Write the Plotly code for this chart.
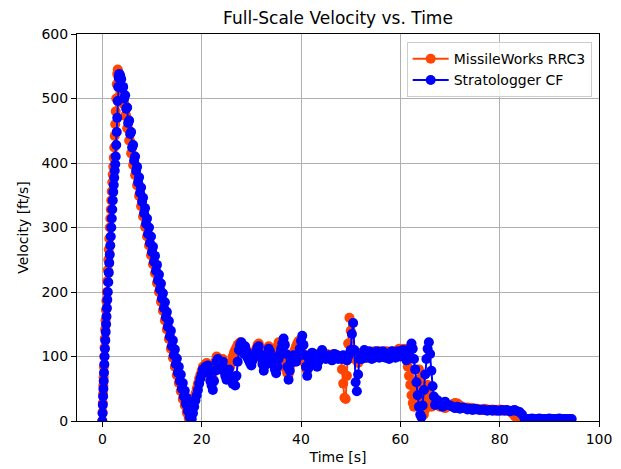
import plotly.graph_objects as go

# ---------------- MissileWorks RRC3 ----------------
rr_t_boost = [0.0, 0.05, 0.1, 0.15, 0.2, 0.26, 0.32, 0.38, 0.44, 0.5,
              0.57, 0.64, 0.72, 0.8, 0.9, 1.0, 1.1, 1.2, 1.3, 1.4,
              1.5, 1.6, 1.7, 1.8, 1.9, 2.0, 2.1, 2.2, 2.3, 2.4,
              2.5, 2.6, 2.7, 2.8, 2.9, 3.0, 3.1, 3.2]
rr_v_boost = [0, 14, 28, 42, 55, 68, 84, 100, 114, 128,
              142, 156, 172, 186, 200, 217, 234, 250, 266, 283,
              300, 314, 328, 342, 356, 370, 382, 394, 408, 424,
              442, 460, 480, 500, 522, 538, 545, 542]

rr_t_desc = [3.4, 3.6, 3.8, 4.0, 4.2, 4.4, 4.6, 4.8, 5.0, 5.2,
             5.4, 5.6, 5.8, 6.0, 6.2, 6.4, 6.6, 6.8, 7.0, 7.2,
             7.4, 7.6, 7.8, 8.0, 8.2, 8.4, 8.6, 8.8, 9.0, 9.2,
             9.4, 9.6, 9.8, 10.0, 10.2, 10.4, 10.6, 10.8, 11.0, 11.2,
             11.4, 11.6, 11.8, 12.0, 12.2, 12.4, 12.6, 12.8, 13.0, 13.2,
             13.4, 13.6, 13.8, 14.0, 14.2, 14.4, 14.6, 14.8, 15.0, 15.2,
             15.4, 15.6, 15.8, 16.0, 16.2, 16.4, 16.6, 16.8, 17.0, 17.2,
             17.4, 17.6]
rr_v_desc = [530, 524, 509, 509, 492, 492, 473, 473, 454, 453,
             435, 434, 415, 414, 397, 398, 381, 382, 365, 366,
             349, 350, 333, 334, 317, 318, 301, 302, 286, 288,
             272, 274, 257, 259, 243, 245, 229, 230, 214, 216,
             200, 202, 185, 187, 171, 173, 156, 158, 142, 143,
             127, 128, 112, 114, 98, 100, 84, 87, 71, 74,
             59, 61, 46, 49, 34, 38, 24, 27, 13, 16,
             4, 3]

rr_t_coast = [17.75, 18.0, 18.25, 18.5, 18.75,
              19.0, 19.25, 19.5, 19.75, 20.0, 20.25, 20.5, 20.75,
              21.0, 21.25, 21.5, 21.75, 22.0, 22.25, 22.5, 22.75,
              23.0, 23.25, 23.5, 23.75, 24.0, 24.25, 24.5, 24.75,
              25.0, 25.25, 25.5, 25.75, 26.0, 26.25, 26.5, 26.75,
              27.0, 27.25, 27.5, 27.75, 28.0, 28.25, 28.5, 28.75,
              29.0, 29.25, 29.5, 29.75, 30.0, 30.25, 30.5, 30.75,
              31.0, 31.25, 31.5, 31.75, 32.0, 32.25, 32.5, 32.75,
              33.0, 33.25, 33.5, 33.75, 34.0, 34.25, 34.5, 34.75,
              35.0, 35.25, 35.5, 35.75, 36.0, 36.25, 36.5, 36.75,
              37.0, 37.25, 37.5, 37.75, 38.0, 38.25, 38.5, 38.75,
              39.0, 39.25, 39.5, 39.75, 40.0, 40.25, 40.5, 40.75,
              41.0, 41.25, 41.5, 41.75, 42.0, 42.25, 42.5, 42.75,
              43.0, 43.25, 43.5, 43.75, 44.0, 44.25, 44.5, 44.75,
              45.0, 45.25, 45.5, 45.75, 46.0, 46.25, 46.5, 46.75,
              47.0, 47.25, 47.5, 47.75, 48.0, 48.25, 48.5, 48.75,
              49.0, 49.25, 49.5, 49.75, 50.0, 50.25, 50.5, 50.75,
              51.0, 51.25, 51.5, 51.75, 52.0, 52.25, 52.5, 52.75,
              53.0, 53.25, 53.5, 53.75, 54.0, 54.25, 54.5, 54.75,
              55.0, 55.25, 55.5, 55.75, 56.0, 56.25, 56.5, 56.75,
              57.0, 57.25, 57.5, 57.75, 58.0, 58.25, 58.5, 58.75,
              59.0, 59.25, 59.5, 59.75, 60.0, 60.25, 60.5, 60.75,
              61.0, 61.25, 61.5, 61.75, 62.0, 62.25, 62.5, 62.75,
              63.0, 63.25, 63.5, 63.75, 64.0, 64.25, 64.5, 64.75,
              65.0, 65.25, 65.5, 65.75, 66.0, 66.25, 66.5, 66.75]
rr_v_coast = [10, 18, 26, 34, 42,
              50, 58, 66, 72, 78, 84, 80, 88,
              90, 84, 72, 64, 58, 66, 80, 92,
              100, 98, 90, 86, 92, 96, 84, 76,
              72, 80, 88, 84, 92, 100, 106, 110,
              114, 118, 120, 122, 118, 112, 108, 114,
              110, 102, 96, 92, 90, 96, 102, 108,
              112, 118, 120, 110, 102, 92, 84, 92,
              100, 108, 116, 112, 106, 98, 92, 100,
              108, 116, 122, 118, 110, 100, 92, 84,
              80, 74, 72, 84, 94, 102, 106, 110,
              116, 120, 124, 120, 114, 106, 98, 90,
              82, 78, 88, 98, 104, 100, 96, 94,
              92, 98, 104, 102, 100, 104, 102, 98,
              102, 104, 100, 98, 102, 100, 104, 102,
              98, 102, 100, 98, 100, 80, 58, 36,
              34, 70, 120, 160, 140, 110, 98, 96,
              104, 98, 90, 96, 102, 106, 104, 100,
              98, 102, 104, 100, 104, 100, 106, 108,
              104, 100, 104, 108, 102, 106, 104, 100,
              104, 108, 102, 104, 100, 104, 108, 106,
              104, 108, 110, 112, 108, 104, 110, 112,
              106, 96, 84, 70, 56, 40, 28, 22,
              30, 46, 64, 80, 60, 38, 20, 10,
              18, 34, 56, 44, 30, 22, 26, 32]

rr_t_tail = [67.0, 67.5, 68.0, 68.5, 69.0, 69.5, 70.0, 70.5, 71.0, 71.5,
             72.0, 72.5, 73.0, 73.5, 74.0, 74.5, 75.0, 75.5, 76.0, 76.5,
             77.0, 77.5, 78.0, 78.5, 79.0, 79.5, 80.0, 80.5, 81.0, 81.5,
             82.0, 82.5, 83.0, 83.5, 84.0, 84.5]
rr_v_tail = [30, 25, 22, 24, 20, 22, 25, 26, 28, 27,
             24, 22, 20, 21, 19, 20, 18, 19, 18, 17,
             19, 18, 17, 18, 16, 17, 18, 16, 17, 16,
             15, 12, 8, 4, 5, 4]

# ---------------- Stratologger CF ----------------
sl_t_boost = [0.0, 0.05, 0.1, 0.16, 0.22, 0.28, 0.34, 0.4, 0.46, 0.53,
              0.6, 0.68, 0.76, 0.84, 0.92, 1.0, 1.1, 1.2, 1.3, 1.4,
              1.5, 1.6, 1.7, 1.8, 1.9, 2.0, 2.1, 2.2, 2.3, 2.4,
              2.5, 2.6, 2.7, 2.8, 2.9, 3.0, 3.1, 3.2, 3.3, 3.4,
              3.5]
sl_v_boost = [0, 12, 25, 38, 50, 62, 75, 88, 100, 112,
              125, 138, 150, 162, 175, 188, 200, 215, 230, 245,
              258, 272, 286, 300, 314, 328, 342, 355, 366, 377,
              388, 398, 410, 428, 448, 470, 496, 518, 532, 538,
              537]

sl_t_desc = [3.6, 3.8, 4.0, 4.2, 4.4, 4.6, 4.8, 5.0, 5.2, 5.4,
             5.6, 5.8, 6.0, 6.2, 6.4, 6.6, 6.8, 7.0, 7.2, 7.4,
             7.6, 7.8, 8.0, 8.2, 8.4, 8.6, 8.8, 9.0, 9.2, 9.4,
             9.6, 9.8, 10.0, 10.2, 10.4, 10.6, 10.8, 11.0, 11.2, 11.4,
             11.6, 11.8, 12.0, 12.2, 12.4, 12.6, 12.8, 13.0, 13.2, 13.4,
             13.6, 13.8, 14.0, 14.2, 14.4, 14.6, 14.8, 15.0, 15.2, 15.4,
             15.6, 15.8, 16.0, 16.2, 16.4, 16.6, 16.8, 17.0, 17.2, 17.4,
             17.6, 17.8, 18.0]
sl_v_desc = [535, 530, 516, 518, 500, 505, 484, 486, 462, 466,
             445, 448, 424, 428, 404, 410, 388, 394, 370, 378,
             354, 362, 340, 346, 322, 330, 306, 314, 290, 300,
             276, 286, 262, 270, 247, 256, 233, 242, 218, 227,
             204, 213, 190, 198, 175, 184, 161, 169, 146, 155,
             131, 140, 116, 125, 102, 111, 88, 97, 75, 84,
             62, 72, 50, 59, 38, 47, 27, 36, 16, 25,
             6, 14, 3]

sl_t_coast = [18.25, 18.5, 18.75,
              19.0, 19.25, 19.5, 19.75, 20.0, 20.25, 20.5, 20.75,
              21.0, 21.25, 21.5, 21.75, 22.0, 22.25, 22.5, 22.75,
              23.0, 23.25, 23.5, 23.75, 24.0, 24.25, 24.5, 24.75,
              25.0, 25.25, 25.5, 25.75, 26.0, 26.25, 26.5, 26.75,
              27.0, 27.25, 27.5, 27.75, 28.0, 28.25, 28.5, 28.75,
              29.0, 29.25, 29.5, 29.75, 30.0, 30.25, 30.5, 30.75,
              31.0, 31.25, 31.5, 31.75, 32.0, 32.25, 32.5, 32.75,
              33.0, 33.25, 33.5, 33.75, 34.0, 34.25, 34.5, 34.75,
              35.0, 35.25, 35.5, 35.75, 36.0, 36.25, 36.5, 36.75,
              37.0, 37.25, 37.5, 37.75, 38.0, 38.25, 38.5, 38.75,
              39.0, 39.25, 39.5, 39.75, 40.0, 40.25, 40.5, 40.75,
              41.0, 41.25, 41.5, 41.75, 42.0, 42.25, 42.5, 42.75,
              43.0, 43.25, 43.5, 43.75, 44.0, 44.25, 44.5, 44.75,
              45.0, 45.25, 45.5, 45.75, 46.0, 46.25, 46.5, 46.75,
              47.0, 47.25, 47.5, 47.75, 48.0, 48.25, 48.5, 48.75,
              49.0, 49.25, 49.5, 49.75, 50.0, 50.25, 50.5, 50.75,
              51.0, 51.25, 51.5, 51.75, 52.0, 52.25, 52.5, 52.75,
              53.0, 53.25, 53.5, 53.75, 54.0, 54.25, 54.5, 54.75,
              55.0, 55.25, 55.5, 55.75, 56.0, 56.25, 56.5, 56.75,
              57.0, 57.25, 57.5, 57.75, 58.0, 58.25, 58.5, 58.75,
              59.0, 59.25, 59.5, 59.75, 60.0, 60.25, 60.5, 60.75,
              61.0, 61.25, 61.5, 61.75, 62.0, 62.25, 62.5, 62.75,
              63.0, 63.25, 63.5, 63.75, 64.0, 64.25, 64.5, 64.75,
              65.0, 65.25, 65.5, 65.75, 66.0, 66.25, 66.5, 66.75]
sl_v_coast = [12, 22, 32,
              40, 48, 58, 66, 72, 80, 76, 84,
              82, 86, 74, 62, 55, 48, 62, 78,
              92, 96, 86, 80, 88, 92, 78, 70,
              64, 72, 80, 70, 62, 58, 66, 55,
              70, 92, 110, 118, 122, 112, 104, 116,
              108, 98, 94, 90, 86, 94, 100, 104,
              108, 114, 116, 104, 98, 88, 78, 86,
              96, 104, 112, 108, 100, 92, 86, 80,
              74, 84, 96, 104, 112, 120, 128, 118,
              104, 84, 64, 78, 90, 98, 102, 96,
              92, 98, 104, 112, 124, 132, 118, 102,
              84, 70, 82, 94, 100, 106, 102, 96,
              88, 84, 92, 100, 106, 110, 104, 98,
              96, 100, 98, 102, 96, 94, 100, 104,
              98, 102, 96, 100, 98, 96, 102, 100,
              98, 94, 100, 104, 110, 135, 152, 110,
              60, 46, 72, 96, 100, 96, 104, 110,
              102, 98, 104, 108, 100, 96, 102, 98,
              104, 108, 102, 98, 100, 104, 108, 102,
              98, 102, 100, 96, 104, 108, 102, 100,
              98, 104, 108, 104, 100, 106, 110, 104,
              98, 94, 100, 108, 114, 120, 112, 96,
              80, 60, 40, 22, 10, 6, 24, 48,
              72, 96, 112, 122, 104, 78, 54, 38]

sl_t_tail = [67.0, 67.5, 68.0, 68.5, 69.0, 69.5, 70.0, 70.5, 71.0, 71.5,
             72.0, 72.5, 73.0, 73.5, 74.0, 74.5, 75.0, 75.5, 76.0, 76.5,
             77.0, 77.5, 78.0, 78.5, 79.0, 79.5, 80.0, 80.5, 81.0, 81.5,
             82.0, 82.5, 83.0, 83.5, 84.0, 84.5, 85.0, 85.5, 86.0, 86.5,
             87.0, 87.5, 88.0, 88.5, 89.0, 89.5, 90.0, 90.5, 91.0, 91.5,
             92.0, 92.5, 93.0, 93.5, 94.0, 94.5]
sl_v_tail = [25, 32, 28, 22, 30, 25, 24, 22, 20, 22,
             19, 21, 20, 18, 19, 17, 19, 18, 17, 18,
             17, 16, 17, 16, 17, 16, 16, 17, 16, 17,
             15, 16, 17, 15, 14, 10, 4, 3, 3, 4,
             3, 3, 4, 3, 3, 3, 4, 3, 3, 3,
             4, 3, 3, 3, 3, 3]

x_ticks = [0, 20, 40, 60, 80, 100]
y_ticks = [0, 100, 200, 300, 400, 500, 600]

for a, b in [(rr_t_boost, rr_v_boost), (rr_t_desc, rr_v_desc), (rr_t_coast, rr_v_coast),
             (rr_t_tail, rr_v_tail), (sl_t_boost, sl_v_boost), (sl_t_desc, sl_v_desc),
             (sl_t_coast, sl_v_coast), (sl_t_tail, sl_v_tail)]:
    assert len(a) == len(b), (len(a), len(b))

rr_t = rr_t_boost + rr_t_desc + rr_t_coast + rr_t_tail
rr_v = rr_v_boost + rr_v_desc + rr_v_coast + rr_v_tail
sl_t = sl_t_boost + sl_t_desc + sl_t_coast + sl_t_tail
sl_v = sl_v_boost + sl_v_desc + sl_v_coast + sl_v_tail

ORANGE = "#ff4500"
BLUE = "#0000ff"

fig = go.Figure()
fig.add_trace(go.Scatter(x=rr_t, y=rr_v, mode="lines+markers", name="MissileWorks RRC3",
                         line=dict(color=ORANGE, width=2),
                         marker=dict(size=10, color=ORANGE)))
fig.add_trace(go.Scatter(x=sl_t, y=sl_v, mode="lines+markers", name="Stratologger CF",
                         line=dict(color=BLUE, width=2),
                         marker=dict(size=10, color=BLUE)))

FONT = "DejaVu Sans"
axis_common = dict(
    showgrid=True, gridcolor="#b0b0b0", gridwidth=1,
    showline=True, linecolor="black", linewidth=1, mirror=True,
    ticks="outside", ticklen=5, tickwidth=1, tickcolor="black",
    zeroline=False, automargin=False,
    tickfont=dict(family=FONT, size=14, color="black"),
    title_font=dict(family=FONT, size=14, color="black"),
)

# the page body has an 8px margin, so the figure is 8px smaller than the window
W, H = 613, 461
fig.update_layout(
    width=W, height=H,
    margin=dict(l=69, r=22, t=26, b=48),
    paper_bgcolor="white", plot_bgcolor="white",
    font=dict(family=FONT, size=14, color="black"),
    title=dict(text="Full-Scale Velocity vs. Time", x=0.5, xref="paper",
               y=1 - 10 / H, yref="container", yanchor="middle", xanchor="center",
               font=dict(family=FONT, size=17, color="black")),
    xaxis=dict(range=[-5.1, 100], tickvals=x_ticks, title=dict(text="Time [s]", standoff=6),
               **axis_common),
    yaxis=dict(range=[0, 600], tickvals=y_ticks, title=dict(text="Velocity [ft/s]", standoff=9),
               **axis_common),
    legend=dict(x=0.986, y=0.979, xanchor="right", yanchor="top",
                bgcolor="rgba(255,255,255,0.8)", bordercolor="#cccccc", borderwidth=1,
                font=dict(family=FONT, size=14, color="black"),
                tracegroupgap=0, itemwidth=36),
    showlegend=True,
)

fig.write_html("out.html")
